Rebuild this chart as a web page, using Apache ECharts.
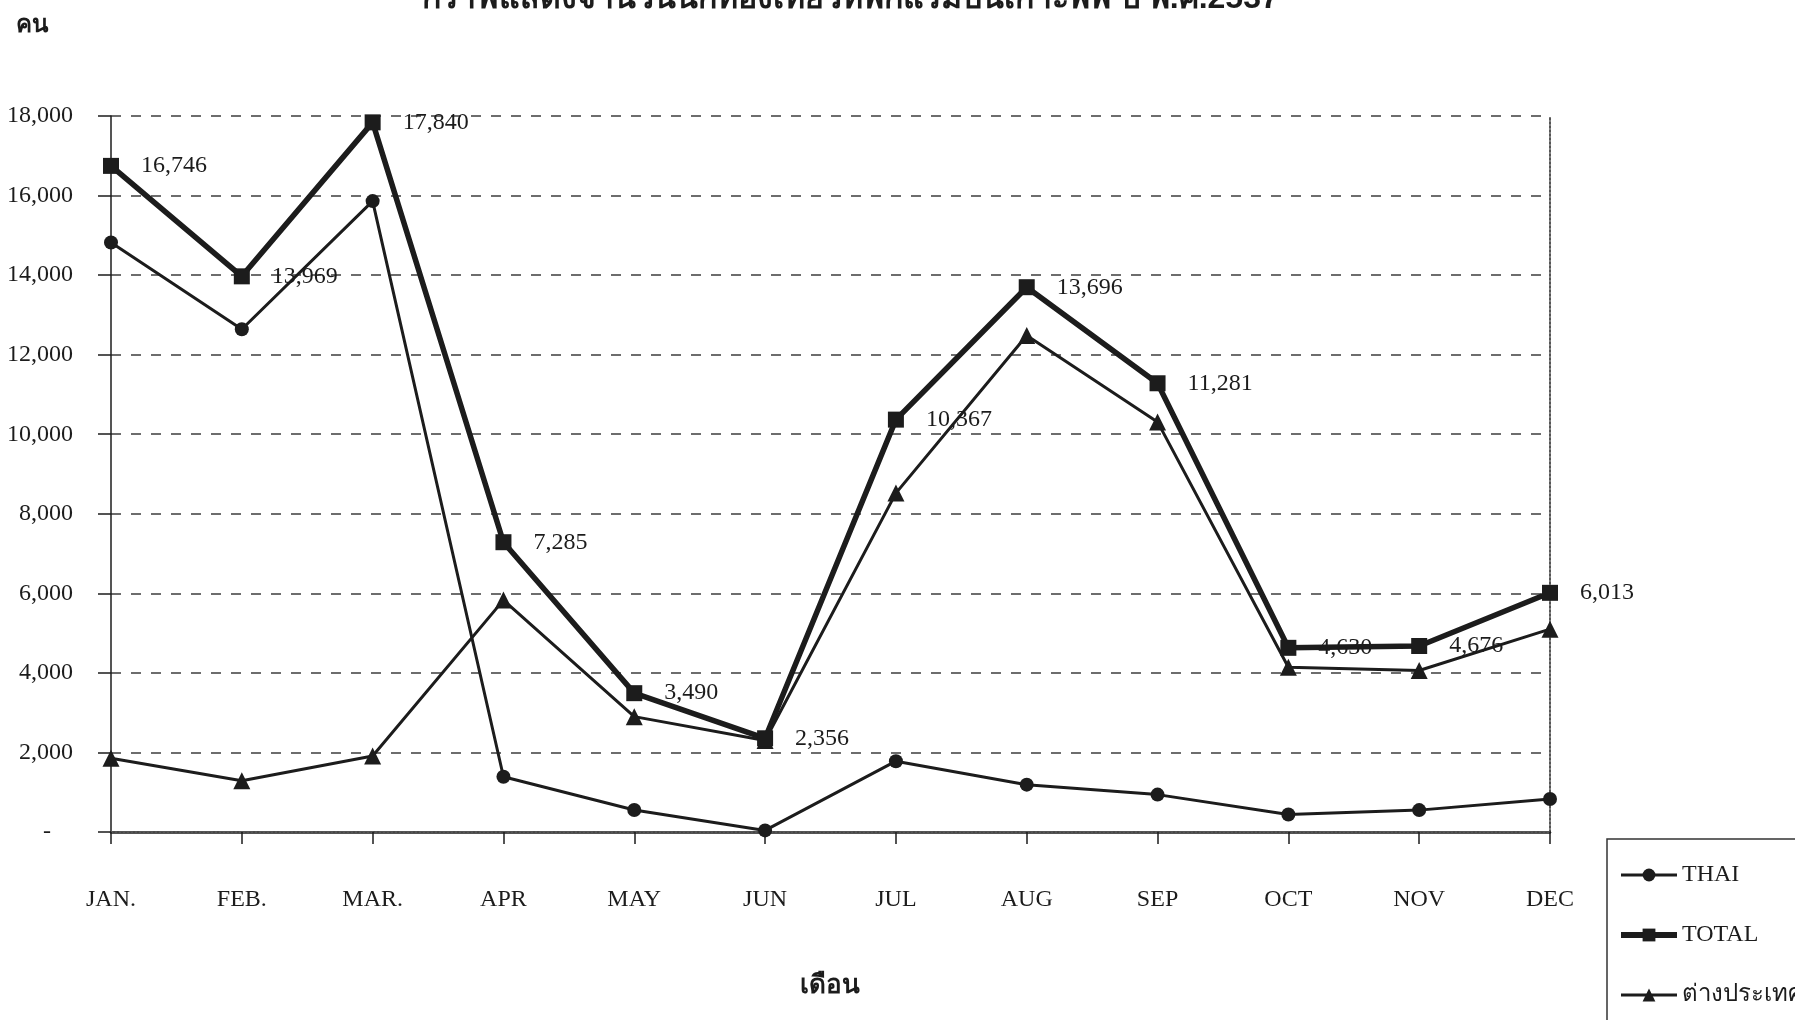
<!DOCTYPE html>
<html>
<head>
<meta charset="utf-8">
<script src="https://cdn.jsdelivr.net/npm/echarts@6/dist/echarts.min.js"></script>
<style>
html,body{margin:0;padding:0;background:#fff;}
#chart{width:1795px;height:1020px;}
</style>
</head>
<body>
<div id="chart"></div>
<script>
var months = ['JAN.', 'FEB.', 'MAR.', 'APR', 'MAY', 'JUN', 'JUL', 'AUG', 'SEP', 'OCT', 'NOV', 'DEC'];
var thai = [14820, 12640, 15860, 1390, 553, 40, 1780, 1190, 940, 440, 550, 830];
var total = [16746, 13969, 17840, 7285, 3490, 2356, 10367, 13696, 11281, 4630, 4676, 6013];
var foreign = [1852, 1290, 1910, 5830, 2900, 2300, 8520, 12480, 10310, 4140, 4060, 5100];
var seriesNames = ['THAI', 'TOTAL', 'ต่างประเทศ'];
var titleText = 'กราฟแสดงจำนวนนักท่องเที่ยวที่พักแรมบนเกาะพีพี ปี พ.ศ.2537';
var yUnit = 'คน';
var xName = 'เดือน';

var SERIF = '"Liberation Serif", "Times New Roman", serif';
var INK = '#1c1c1c';

function fmt(v) { return Number(v).toLocaleString('en-US'); }

var chart = echarts.init(document.getElementById('chart'));
chart.setOption({
  backgroundColor: '#ffffff',
  animation: false,
  graphic: [
    { type: 'text', left: 422, top: -17, style: { text: titleText, font: 'bold 32px sans-serif', fill: INK } },
    { type: 'text', left: 16, top: 13, style: { text: yUnit, font: 'bold 24px sans-serif', fill: INK } },
    { type: 'text', left: 800, top: 973, style: { text: xName, font: 'bold 26px sans-serif', fill: INK } }
  ],
  grid: { left: 111, right: 245, top: 116, bottom: 188, containLabel: false },
  legend: {
    data: [
      { name: seriesNames[0], lineStyle: { width: 3 } },
      { name: seriesNames[1], lineStyle: { width: 6 } },
      { name: seriesNames[2], lineStyle: { width: 3 } }
    ],
    orient: 'vertical',
    left: 1607,
    top: 839,
    width: 300,
    height: 300,
    padding: [24, 60, 40, 11],
    itemGap: 36,
    itemWidth: 56,
    itemHeight: 16,
    borderColor: '#333',
    borderWidth: 1.5,
    textStyle: { fontFamily: SERIF, fontSize: 24, color: INK, lineHeight: 24 }
  },
  xAxis: [{
    type: 'category',
    data: months,
    boundaryGap: false,
    axisLine: { show: true, lineStyle: { color: INK, width: 2.5 } },
    axisTick: { show: true, length: 12, lineStyle: { color: INK, width: 1.5 } },
    axisLabel: { margin: 56, fontFamily: SERIF, fontSize: 24, color: INK },
    splitLine: { show: false }
  }, {
    type: 'category',
    data: months,
    position: 'top',
    boundaryGap: false,
    axisLine: { show: true, lineStyle: { color: '#555', width: 2, type: 'dotted' } },
    axisTick: { show: false },
    axisLabel: { show: false }
  }],
  yAxis: [{
    type: 'value',
    min: 0,
    max: 18000,
    interval: 2000,
    axisLine: { show: true, lineStyle: { color: INK, width: 1.5 } },
    axisTick: { show: true, length: 13, lineStyle: { color: INK, width: 1.5 } },
    axisLabel: {
      margin: 38,
      fontFamily: SERIF, fontSize: 24, color: INK,
      formatter: function (v) { return v === 0 ? '{z|-}' : fmt(v); },
      rich: { z: { fontFamily: SERIF, fontSize: 24, color: INK, padding: [0, 22, 0, 0] } }
    },
    splitLine: { show: true, lineStyle: { color: '#4a4a4a', width: 1.6, type: [10, 10] } }
  }, {
    type: 'value',
    position: 'right',
    min: 0,
    max: 18000,
    interval: 2000,
    axisLine: { show: true, lineStyle: { color: '#555', width: 2, type: 'dotted' } },
    axisTick: { show: false },
    axisLabel: { show: false },
    splitLine: { show: false }
  }],
  series: [{
    name: seriesNames[0],
    type: 'line',
    data: thai,
    symbol: 'circle',
    symbolSize: 14,
    lineStyle: { color: INK, width: 3 },
    itemStyle: { color: INK },
    z: 2
  }, {
    name: seriesNames[1],
    type: 'line',
    data: total,
    symbol: 'rect',
    symbolSize: 16,
    lineStyle: { color: INK, width: 5.5 },
    itemStyle: { color: INK },
    label: {
      show: true,
      position: 'right',
      distance: 22,
      fontFamily: SERIF,
      fontSize: 24,
      color: INK,
      formatter: function (p) { return fmt(p.value); }
    },
    z: 4
  }, {
    name: seriesNames[2],
    type: 'line',
    data: foreign,
    symbol: 'triangle',
    symbolSize: 17,
    lineStyle: { color: INK, width: 3 },
    itemStyle: { color: INK },
    z: 3
  }]
});
</script>
</body>
</html>
